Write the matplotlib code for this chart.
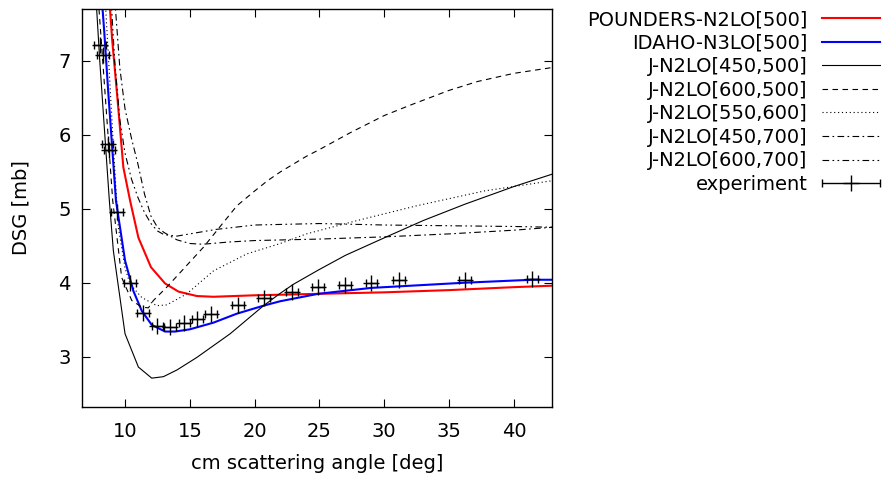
import numpy as np
import matplotlib as mpl
mpl.use("Agg")
from matplotlib import pyplot as plt
from matplotlib.container import ErrorbarContainer
from matplotlib.legend_handler import HandlerErrorbar

mpl.rcParams['font.family'] = 'DejaVu Sans'
mpl.rcParams.update({'font.size': 14})

# POUNDERS-N2LO[500]
pounders_x = [8.5, 8.84, 9.0, 9.43, 9.87, 10.39, 11.03, 12.0, 13.09, 14.12, 15.54, 16.82, 20.0, 25.0, 30.0, 35.0, 40.0, 43.0]
pounders_y = [8.4, 7.7, 7.3, 6.46, 5.56, 5.11, 4.61, 4.21, 3.99, 3.88, 3.82, 3.81, 3.83, 3.85, 3.87, 3.90, 3.94, 3.96]

# IDAHO-N3LO[500]
idaho_x = [8.1, 8.27, 8.39, 8.7, 9.3, 10.0, 10.64, 11.29, 12.06, 13.09, 13.86, 15.0, 16.82, 18.6, 20.69, 21.98, 24.9, 29.0, 36.2, 41.4, 43.0]
idaho_y = [8.1, 7.69, 7.41, 6.59, 5.11, 4.30, 3.89, 3.62, 3.43, 3.34, 3.34, 3.37, 3.46, 3.58, 3.69, 3.75, 3.85, 3.93, 4.00, 4.04, 4.04]

# J-N2LO[450,500]
j450_500_x = [7.7, 7.81, 8.05, 8.4, 8.79, 9.1, 10.0, 11.03, 12.06, 12.96, 14.0, 15.54, 18.11, 20.69, 22.0, 23.0, 24.9, 27.0, 30.04, 33.0, 36.2, 40.0, 43.0]
j450_500_y = [7.95, 7.7, 7.0, 6.1, 5.11, 4.43, 3.31, 2.86, 2.71, 2.73, 2.82, 2.99, 3.31, 3.69, 3.86, 3.98, 4.17, 4.37, 4.61, 4.84, 5.06, 5.30, 5.47]

# J-N2LO[600,500]
j600_500_x = [7.9, 7.99, 8.3, 9.05, 9.74, 10.52, 11.29, 11.8, 12.19, 13.22, 16.05, 18.63, 20.0, 21.0, 22.0, 24.0, 25.0, 27.4, 30.0, 32.0, 35.0, 37.2, 40.0, 43.0]
j600_500_y = [7.95, 7.7, 6.95, 5.11, 4.07, 3.76, 3.67, 3.66, 3.76, 3.94, 4.48, 5.04, 5.24, 5.38, 5.50, 5.71, 5.80, 6.03, 6.26, 6.40, 6.60, 6.72, 6.83, 6.91]

# J-N2LO[550,600]
j550_600_x = [8.4, 8.51, 8.8, 9.1, 9.48, 10.0, 10.39, 11.29, 12.45, 13.22, 14.77, 16.82, 19.4, 21.98, 24.0, 27.9, 32.5, 37.7, 43.0]
j550_600_y = [8.0, 7.7, 6.8, 5.85, 4.75, 4.2, 3.98, 3.80, 3.69, 3.70, 3.85, 4.16, 4.39, 4.53, 4.66, 4.84, 5.04, 5.24, 5.38]

# J-N2LO[450,700]
j450_700_x = [9.2, 9.6, 10.0, 10.5, 11.0, 11.5, 12.0, 12.5, 13.0, 14.0, 15.0, 16.0, 18.0, 20.0, 25.0, 30.0, 35.0, 40.0, 43.0]
j450_700_y = [7.85, 6.9, 6.35, 5.95, 5.6, 5.2, 4.9, 4.75, 4.68, 4.58, 4.53, 4.52, 4.55, 4.57, 4.59, 4.62, 4.66, 4.71, 4.75]

# J-N2LO[600,700]
j600_700_x = [8.9, 9.2, 9.6, 10.0, 10.5, 11.0, 11.5, 12.0, 12.5, 13.0, 14.0, 15.0, 17.0, 20.0, 25.0, 30.0, 35.0, 40.0, 43.0]
j600_700_y = [7.9, 7.0, 6.2, 5.75, 5.4, 5.15, 4.95, 4.8, 4.7, 4.65, 4.63, 4.66, 4.72, 4.78, 4.80, 4.78, 4.77, 4.76, 4.75]

# experiment
exp_x = [8.05, 8.3, 8.65, 8.8, 9.36, 10.39, 11.37, 12.5, 13.48, 14.58, 15.59, 16.65, 18.71, 20.74, 22.88, 24.89, 26.95, 29.01, 31.12, 36.22, 41.43]
exp_y = [7.22, 7.08, 5.88, 5.80, 4.95, 3.99, 3.585, 3.42, 3.405, 3.45, 3.51, 3.577, 3.70, 3.79, 3.88, 3.94, 3.97, 4.00, 4.03, 4.04, 4.05]
exp_xerr = 0.45

fig = plt.figure(figsize=(8.86, 4.79), dpi=100)
ax = fig.add_axes([82 / 886, 1 - 407 / 479, (552 - 82) / 886, (407 - 9) / 479])

ax.plot(pounders_x, pounders_y, color='#ff0000', lw=1.5, label='POUNDERS-N2LO[500]')
ax.plot(idaho_x, idaho_y, color='#0000ff', lw=1.5, label='IDAHO-N3LO[500]')
ax.plot(j450_500_x, j450_500_y, color='black', lw=0.8, label='J-N2LO[450,500]')
ax.plot(j600_500_x, j600_500_y, color='black', lw=0.8, dashes=(5, 4), label='J-N2LO[600,500]')
ax.plot(j550_600_x, j550_600_y, color='black', lw=0.8, dashes=(1, 2.5), label='J-N2LO[550,600]')
ax.plot(j450_700_x, j450_700_y, color='black', lw=0.8, dashes=(6, 3, 1.5, 3), label='J-N2LO[450,700]')
ax.plot(j600_700_x, j600_700_y, color='black', lw=0.8, dashes=(6, 3, 1.5, 3, 1.5, 3), label='J-N2LO[600,700]')
ax.errorbar(exp_x, exp_y, xerr=exp_xerr, fmt='+', color='black', markersize=11, mew=1.0,
            elinewidth=1.0, capsize=3, label='experiment')

ax.set_xlim(6.68, 42.94)
ax.set_ylim(2.32, 7.70)
ax.set_xticks([10, 15, 20, 25, 30, 35, 40])
ax.set_yticks([3, 4, 5, 6, 7])
ax.tick_params(direction='in', length=5.5, top=True, right=True)
ax.tick_params(axis='x', pad=11)
ax.tick_params(axis='y', pad=8)
for s in ax.spines.values():
  s.set_linewidth(1.0)
ax.set_xlabel("cm scattering angle [deg]", labelpad=9)
ax.set_ylabel("DSG [mb]", labelpad=20)

fig.legend(loc='upper right', bbox_to_anchor=(880 / 886, 1 - 10 / 479), frameon=False,
           markerfirst=False, handlelength=3.0, handletextpad=0.72, labelspacing=0.235,
           borderaxespad=0, borderpad=0,
           handler_map={ErrorbarContainer: HandlerErrorbar(xerr_size=1.5)})

plt.savefig("out.png", dpi=100)
